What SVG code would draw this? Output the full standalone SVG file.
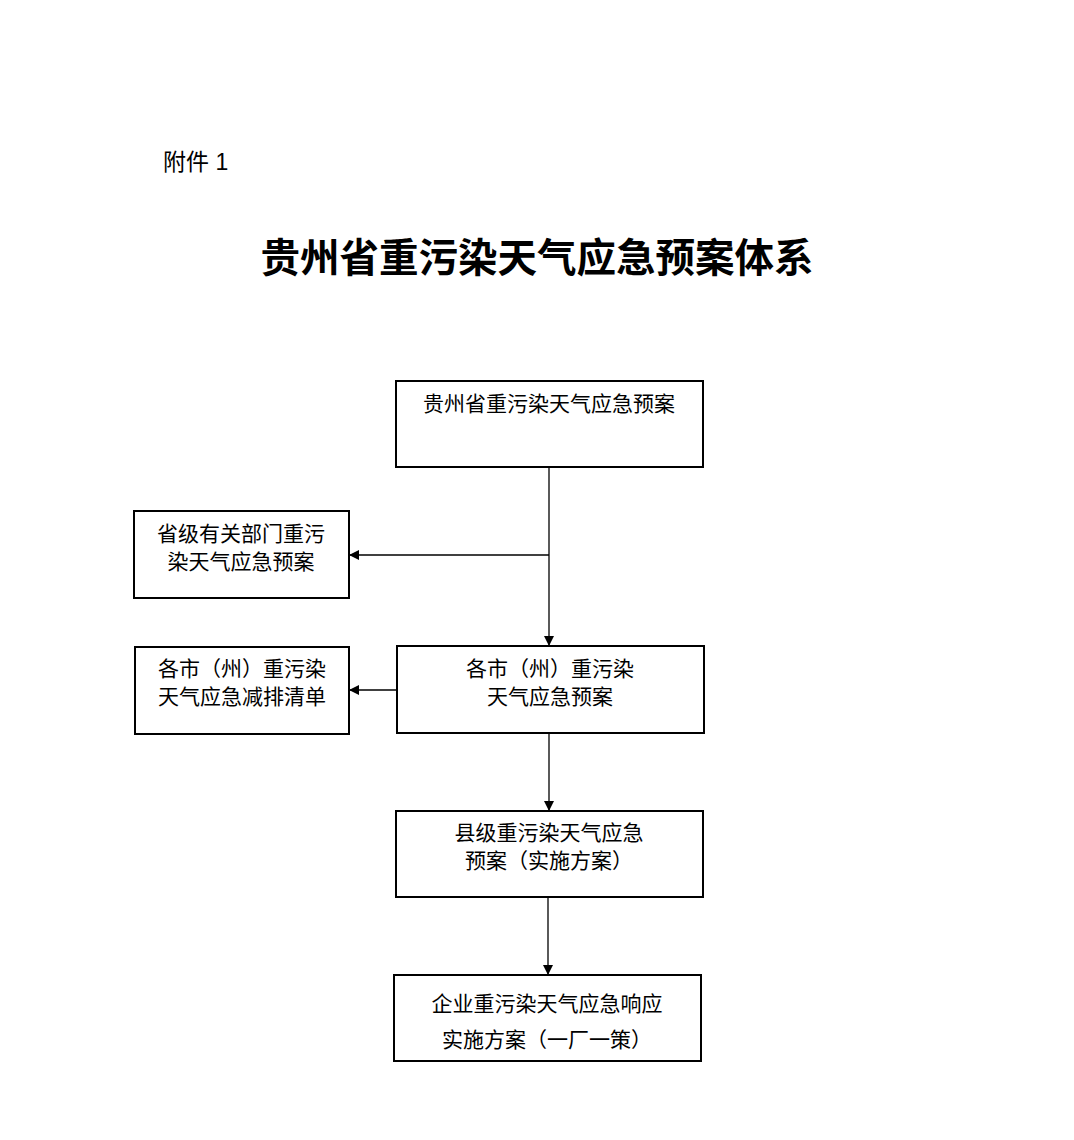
<svg xmlns="http://www.w3.org/2000/svg" width="1074" height="1140" viewBox="0 0 1074 1140">
<style>
.b{fill:#fff;stroke:#000;stroke-width:2}
.t{font-family:"Liberation Serif","Noto Sans CJK SC",serif;font-size:21px;text-anchor:middle;fill:#000}
.c{stroke:#000;stroke-width:1.3;fill:none}
</style>
<defs><marker id="a" markerWidth="10" markerHeight="10" refX="9" refY="5" orient="auto" markerUnits="userSpaceOnUse"><path d="M0,0L10,5L0,10z" fill="#000"/></marker></defs>
<rect width="1074" height="1140" fill="#fff"/>
<text x="163" y="170" font-family="Liberation Sans,Noto Sans CJK SC,sans-serif" font-size="23">附件 1</text>
<text x="537" y="272" font-family="Noto Sans CJK SC,serif" font-size="39.5" font-weight="bold" text-anchor="middle">贵州省重污染天气应急预案体系</text>
<g id="connectors">
<path class="c" d="M549,467V645" marker-end="url(#a)"/>
<path class="c" d="M549,555H350" marker-end="url(#a)"/>
<path class="c" d="M397,690H350" marker-end="url(#a)"/>
<path class="c" d="M549,733V810" marker-end="url(#a)"/>
<path class="c" d="M548,897V974" marker-end="url(#a)"/>
</g>
<g id="n1"><rect class="b" x="396" y="381" width="307" height="86"/><text class="t" x="549" y="411">贵州省重污染天气应急预案</text></g>
<g id="n2"><rect class="b" x="134" y="511" width="215" height="87"/><text class="t" x="241" y="541">省级有关部门重污</text><text class="t" x="241" y="569">染天气应急预案</text></g>
<g id="n3"><rect class="b" x="135" y="647" width="214" height="87"/><text class="t" x="242" y="676">各市（州）重污染</text><text class="t" x="242" y="704">天气应急减排清单</text></g>
<g id="n4"><rect class="b" x="397" y="646" width="307" height="87"/><text class="t" x="550" y="676">各市（州）重污染</text><text class="t" x="550" y="704">天气应急预案</text></g>
<g id="n5"><rect class="b" x="396" y="811" width="307" height="86"/><text class="t" x="549" y="840">县级重污染天气应急</text><text class="t" x="549" y="868">预案（实施方案）</text></g>
<g id="n6"><rect class="b" x="394" y="975" width="307" height="86"/><text class="t" x="547" y="1011">企业重污染天气应急响应</text><text class="t" x="547" y="1047">实施方案（一厂一策）</text></g>
</svg>
